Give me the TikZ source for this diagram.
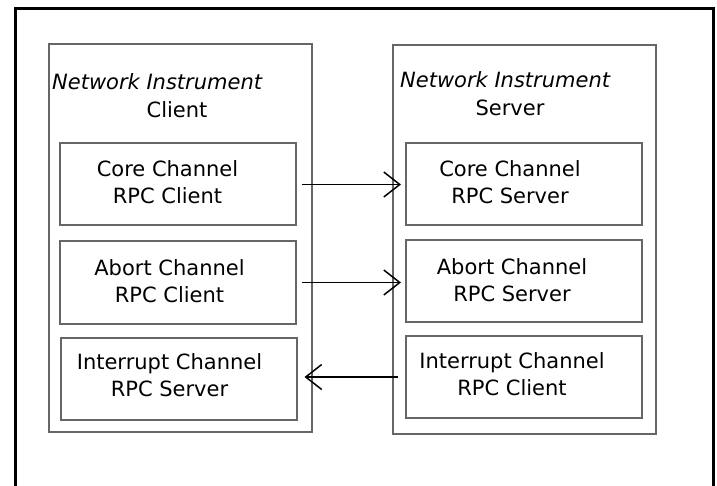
\documentclass[tikz,border=0pt]{standalone}
\usepackage{fontspec}
\setmainfont{DejaVu Sans}
\usetikzlibrary{arrows.meta}

\tikzset{
  group/.style={draw=black!60, line width=2pt, rectangle, minimum width=263pt, minimum height=388pt},
  chan/.style={draw=black!60, line width=2pt, rectangle, minimum width=236pt, minimum height=82pt},
  chtext/.style={align=center, font=\fontsize{21}{27}\selectfont, inner sep=0pt},
  head/.style={font=\fontsize{21}{27}\selectfont, inner sep=0pt},
  link/.style={-{Straight Barb[length=16pt, width=25pt, line width=1.5pt]}, line width=1.5pt}
}

\begin{document}
\begin{tikzpicture}[x=1pt, y=-1pt]

\useasboundingbox (0,0) rectangle (717,486);

% frame
\draw [line width=3pt] (15,486) -- (15,9) -- (713,9) -- (713,486);

% client side
\node [group] (client) at (180,238) {};
\node [head, anchor=west] (clienthead) at (52,82) {\itshape Network Instrument};
\node [head] (clientname) at (177,110) {Client};

\node [chan] (lcore) at (177.5,184.5) {};
\node [chan] (labort) at (177.5,282.5) {};
\node [chan] (lintr) at (178.5,378.5) {};
\node [chtext] (lcoretext) at ([shift={(-10,-2)}]lcore.center) {Core Channel\\RPC Client};
\node [chtext] (laborttext) at ([shift={(-8,-1)}]labort.center) {Abort Channel\\RPC Client};
\node [chtext] (lintrtext) at ([shift={(-9,-3)}]lintr.center) {Interrupt Channel\\RPC Server};

% server side
\node [group] (server) at (524,239.5) {};
\node [head, anchor=west] (serverhead) at (400,80) {\itshape Network Instrument};
\node [head] (servername) at (510,108) {Server};

\node [chan] (rcore) at (524,184.5) {};
\node [chan] (rabort) at (524,281) {};
\node [chan] (rintr) at (524,377) {};
\node [chtext] (rcoretext) at ([shift={(-14,-2)}]rcore.center) {Core Channel\\RPC Server};
\node [chtext] (raborttext) at ([shift={(-12,-1)}]rabort.center) {Abort Channel\\RPC Server};
\node [chtext] (rintrtext) at ([shift={(-12,-3)}]rintr.center) {Interrupt Channel\\RPC Client};

% channels
\draw [link, shorten <=5pt, shorten >=4pt] (lcore.east) -- (lcore.east -| rcore.west);
\draw [link, shorten <=5pt, shorten >=4pt] (labort.east) -- (labort.east -| rabort.west);
\draw [link, shorten <=7pt, shorten >=7pt] (rintr.west) -- (rintr.west -| lintr.east);

\end{tikzpicture}
\end{document}
